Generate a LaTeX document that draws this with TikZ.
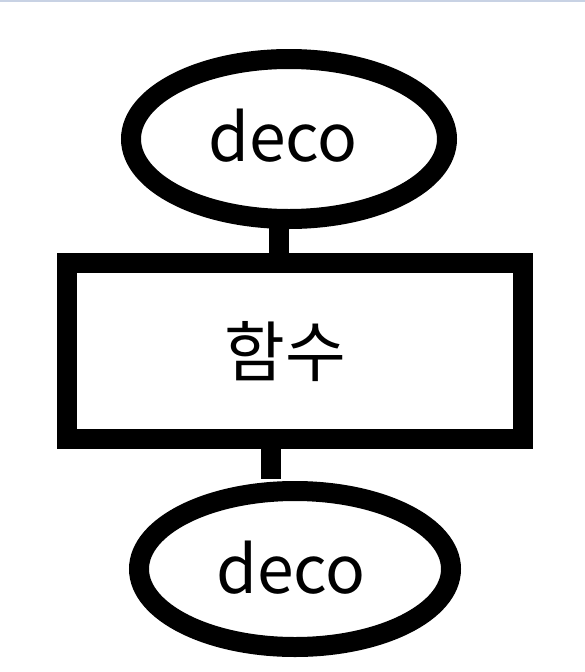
\documentclass[tikz,border=0pt]{standalone}
\usepackage{fontspec}
\setmainfont{Noto Sans CJK KR}
\usetikzlibrary{shapes.geometric,calc}
\definecolor{topline}{HTML}{C8D2E4}
\begin{document}
\begin{tikzpicture}[x=1pt,y=-1pt,
  shapebox/.style={draw=black,line width=20pt,inner sep=0pt},
  ovalbox/.style={shapebox,ellipse},
  rectbox/.style={shapebox,rectangle},
  lbl/.style={font=\fontsize{66}{70}\selectfont,inner sep=0pt,anchor=base},
  conn/.style={draw=black,line width=20pt}]
\useasboundingbox (0,0) rectangle (585,672);
\fill[white] (0,0) rectangle (585,672);
\draw[topline,line width=1.5pt] (0,0.75) -- (585,0.75);
% shapes
\node[ovalbox,minimum width=316pt,minimum height=160pt] (e1) at (289,139) {};
\node[rectbox,minimum width=456pt,minimum height=176pt] (r) at (295,351) {};
\node[ovalbox,minimum width=312pt,minimum height=156pt] (e2) at (295,569) {};
% labels
\node[lbl] (t1) at (283,161) {deco};
\node[lbl] (t2) at (285,376) {함수};
\node[lbl] (t3) at (291,593) {deco};
% connectors
\draw[conn] ([xshift=-10pt,yshift=2pt]e1.south) -- ([xshift=-10pt]e1.south |- r.north);
\draw[conn] ([xshift=-24pt]r.south) -- ([xshift=-24pt,yshift=2pt]r.south |- e2.north);
\end{tikzpicture}
\end{document}
